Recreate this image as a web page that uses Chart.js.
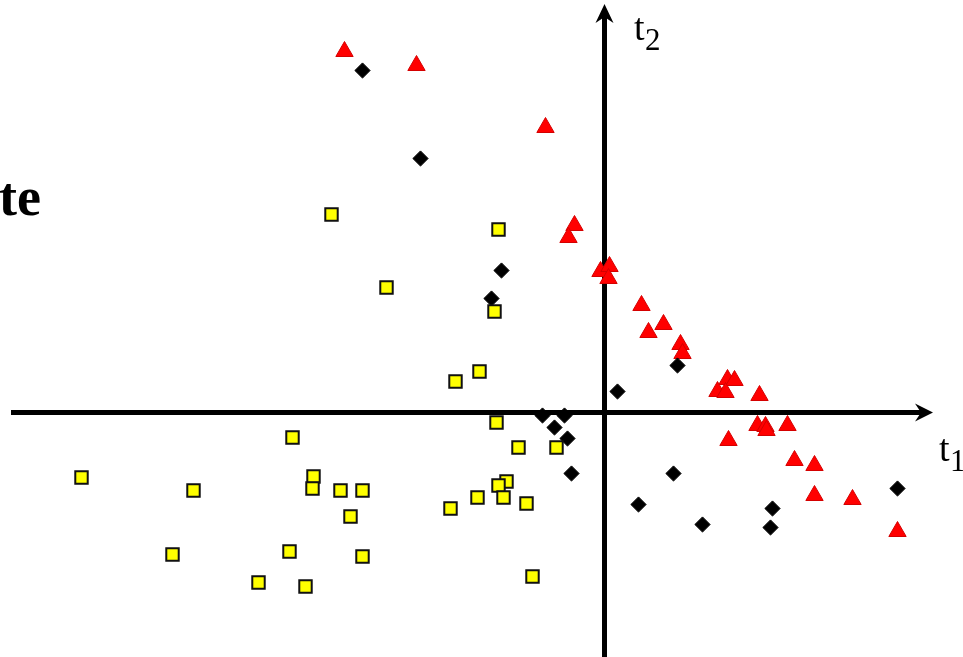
<!DOCTYPE html>
<html>
<head>
<meta charset="utf-8">
<title>t1 / t2 score plot</title>
<script src="https://cdn.jsdelivr.net/npm/chart.js@4/dist/chart.umd.min.js"></script>
<style>
  html, body { margin: 0; padding: 0; background: #ffffff; overflow: hidden; }
  #wrap { width: 963px; height: 657px; position: relative; overflow: hidden; }
  #plot { display: block; }
</style>
</head>
<body>
<div id="wrap"><canvas id="plot" width="963" height="657"></canvas></div>
<script>
// Score coordinates (t1, t2) for the three groups
const squaresT1 = [-2.73, -2.18, -1.06, -1.10, -1.49, -1.25, -1.08, -0.86, -0.48, -0.98,
                   -1.06, -1.01, -1.27, -1.54, -0.78, -0.72, -3.12, -5.23, -4.11, -2.91,
                   -2.92, -2.64, -2.42, -2.54, -4.32, -3.15, -2.42, -3.46, -2.99];
const squaresT2 = [ 1.98,  1.25,  1.83,  1.01,  0.31,  0.41, -0.10, -0.35, -0.35, -0.69,
                   -0.73, -0.85, -0.85, -0.96, -0.91, -1.64, -0.25, -0.65, -0.78, -0.64,
                   -0.76, -0.78, -0.78, -1.04, -1.42, -1.39, -1.44, -1.70, -1.74];

const diamondsT1 = [-2.42, -1.84, -1.03, -1.13, 0.73, 0.13, -0.62, -0.40, -0.50, -0.37,
                    -0.33, 0.69, 0.34, 0.98, 1.68, 1.66, 2.93];
const diamondsT2 = [ 3.42,  2.54,  1.42,  1.14, 0.47, 0.21, -0.03, -0.03, -0.15, -0.26,
                    -0.61, -0.61, -0.92, -1.12, -0.96, -1.15, -0.76];

const trianglesT1 = [-2.60, -1.88, -0.59, -0.30, -0.36, -0.04, 0.05, 0.04, 0.37, 0.44,
                      0.59,  0.76,  0.78,  1.23,  1.30,  1.13, 1.21, 1.55, 1.53, 1.61,
                      1.62,  1.83,  1.24,  1.90,  2.10,  2.10, 2.48, 2.93];
const trianglesT2 = [ 3.61,  3.47,  2.85,  1.87,  1.75,  1.41, 1.46, 1.34, 1.07, 0.80,
                      0.88,  0.68,  0.59,  0.33,  0.32,  0.21, 0.20, 0.17, -0.13, -0.14,
                     -0.18, -0.13, -0.28, -0.48, -0.53, -0.83, -0.87, -1.19];

// Visible window of the score space
const t1Range = [-6.045, 3.585];
const t2Range = [-2.445, 4.125];

const toPoints = (xs, ys) => xs.map((x, i) => ({ x: x, y: ys[i] }));

// Draws the two arrowed axes through the origin and their labels
const axesPlugin = {
  id: 'crossAxes',
  beforeDatasetsDraw(chart) {
    const ctx = chart.ctx;
    const xs = chart.scales.x, ys = chart.scales.y;
    const ox = xs.getPixelForValue(0);
    const oy = ys.getPixelForValue(0);
    const area = chart.chartArea;
    ctx.save();
    ctx.strokeStyle = '#000';
    ctx.fillStyle = '#000';
    ctx.lineWidth = 5;
    ctx.lineCap = 'butt';

    // horizontal t1 axis
    const xTip = 933;
    ctx.beginPath();
    ctx.moveTo(11, oy);
    ctx.lineTo(xTip - 12, oy);
    ctx.stroke();
    ctx.beginPath();
    ctx.moveTo(xTip, oy);
    ctx.lineTo(xTip - 18, oy - 9);
    ctx.lineTo(xTip - 12, oy);
    ctx.lineTo(xTip - 18, oy + 9);
    ctx.closePath();
    ctx.fill();

    // vertical t2 axis
    const yTip = 4;
    ctx.beginPath();
    ctx.moveTo(ox, area.bottom);
    ctx.lineTo(ox, yTip + 12);
    ctx.stroke();
    ctx.beginPath();
    ctx.moveTo(ox, yTip);
    ctx.lineTo(ox - 9, yTip + 19);
    ctx.lineTo(ox, yTip + 13);
    ctx.lineTo(ox + 9, yTip + 19);
    ctx.closePath();
    ctx.fill();

    // axis labels with subscripts
    ctx.textBaseline = 'alphabetic';
    ctx.textAlign = 'left';
    ctx.font = '38px "Liberation Serif", "DejaVu Serif", serif';
    ctx.fillText('t', 634, 40);
    ctx.fillText('t', 939, 461);
    ctx.font = '31px "Liberation Serif", "DejaVu Serif", serif';
    ctx.fillText('2', 645, 50);
    ctx.fillText('1', 950, 471);

    // panel label
    ctx.font = 'bold 54px "Liberation Serif", "DejaVu Serif", serif';
    ctx.fillText('te', -1, 215);
    ctx.restore();
  }
};

new Chart(document.getElementById('plot'), {
  type: 'scatter',
  data: {
    datasets: [
      {
        label: 'squares',
        data: toPoints(squaresT1, squaresT2),
        pointStyle: 'rect',
        pointRadius: 8.8,
        backgroundColor: '#ffff00',
        borderColor: '#111111',
        borderWidth: 2
      },
      {
        label: 'diamonds',
        data: toPoints(diamondsT1, diamondsT2),
        pointStyle: 'rectRot',
        pointRadius: 7.6,
        backgroundColor: '#000000',
        borderColor: '#000000',
        borderWidth: 1
      },
      {
        label: 'triangles',
        data: toPoints(trianglesT1, trianglesT2),
        pointStyle: 'triangle',
        pointRadius: 10,
        backgroundColor: '#ff0000',
        borderColor: '#d40000',
        borderWidth: 1
      }
    ]
  },
  options: {
    responsive: false,
    maintainAspectRatio: false,
    devicePixelRatio: 1,
    animation: false,
    layout: { padding: 0, autoPadding: false },
    plugins: {
      legend: { display: false },
      tooltip: { enabled: false },
      title: { display: false }
    },
    scales: {
      x: { type: 'linear', min: t1Range[0], max: t1Range[1], display: false },
      y: { type: 'linear', min: t2Range[0], max: t2Range[1], display: false }
    },
    elements: { point: { hoverRadius: 10 } }
  },
  plugins: [axesPlugin]
});
</script>
</body>
</html>
